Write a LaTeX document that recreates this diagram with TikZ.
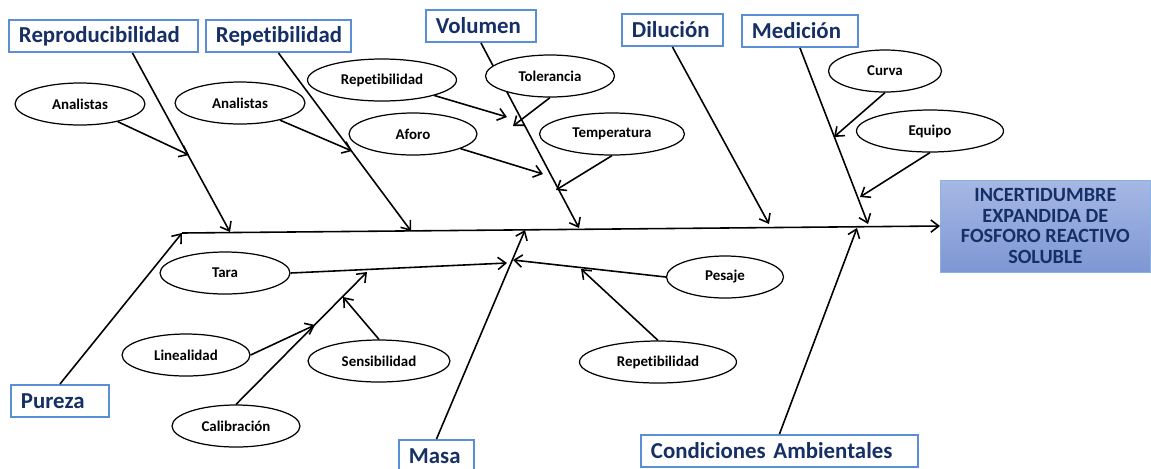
\documentclass[tikz,border=0pt]{standalone}
\usepackage{fontspec}
\setmainfont{Carlito}[Ligatures={NoCommon}]
\usetikzlibrary{arrows.meta, shapes.geometric}
\definecolor{catnavy}{RGB}{22,48,102}
\definecolor{catblue}{RGB}{90,142,214}
\definecolor{efftop}{RGB}{166,184,228}
\definecolor{effbot}{RGB}{126,150,212}

\begin{document}
\begin{tikzpicture}[
  x=0.02cm, y=-0.02cm,
  catbox/.style={rectangle, draw=catblue, line width=1.1pt, fill=white, text=catnavy,
                 font=\fontsize{13}{15}\selectfont\bfseries, text width=#1, align=left,
                 minimum height=0.64cm, inner xsep=0.2cm, anchor=west},
  sub/.style={ellipse, draw, line width=0.7pt, fill=white, minimum width=#1,
              minimum height=0.84cm, inner sep=0pt, font=\fontsize{8.5}{10}\selectfont\bfseries},
  arr/.style={-{Straight Barb[length=4.5pt, width=7pt]}, line width=0.9pt}
]
\useasboundingbox (0,0) rectangle (1151,468);

% effect box
\node[rectangle, draw=catblue!70, top color=efftop, bottom color=effbot, text=catnavy,
      minimum width=4.2cm, minimum height=1.84cm, align=center, anchor=west,
      font=\fontsize{11.5}{11.6}\selectfont\bfseries] (effect) at (940,226)
      {INCERTIDUMBRE\\EXPANDIDA DE\\FOSFORO REACTIVO\\SOLUBLE};

% spine
\coordinate (sp0) at (182,233);
\draw[arr] (sp0) -- (effect.west);

% categories
\node[catbox=3.38cm] (repro)  at (8,36)    {Reproducibilidad};
\node[catbox=2.5cm]  (repet)  at (205,36)  {Repetibilidad};
\node[catbox=1.8cm]  (vol)    at (425,26)  {Volumen};
\node[catbox=1.62cm] (dil)    at (621,30)  {Dilución};
\node[catbox=1.92cm] (med)    at (741,31)  {Medición};
\node[catbox=1.56cm] (pur)    at (10,401)  {Pureza};
\node[catbox=1.1cm]  (masa)   at (398,456) {Masa};
\node[catbox=5.14cm] (amb)    at (640,451) {Condiciones Ambientales};

% spine end points
\coordinate (tRepro) at (230,232);
\coordinate (tRepet) at (411,231);
\coordinate (tVol)   at (579,228);
\coordinate (tDil)   at (769,224);
\coordinate (tMed)   at (868,224);
\coordinate (tMasa)  at (525,230);
\coordinate (tAmb)   at (857,228);

\draw[arr] ([xshift=0.58cm]repro.south) -- (tRepro);
\draw[arr] (repet.south) -- (tRepet);
\draw[arr] (vol.south) -- (tVol);
\draw[arr] (dil.south) -- (tDil);
\draw[arr] (med.south) -- (tMed);
\draw[arr] (pur.north) -- (sp0);
\draw[arr] (masa.north) -- (tMasa);
\draw[arr] (amb.north) -- (tAmb);

% sub causes
\node[sub=2.6cm]  (ana1)    at (80,104)  {Analistas};
\node[sub=2.6cm]  (ana2)    at (240,103) {Analistas};
\node[sub=2.98cm] (repvol)  at (382,80)  {Repetibilidad};
\node[sub=2.58cm] (toler)   at (550,76)  {Tolerancia};
\node[sub=2.56cm] (aforo)   at (413,134) {Aforo};
\node[sub=2.9cm]  (temp)    at (612,134) {Temperatura};
\node[sub=2.26cm] (curva)   at (885,71)  {Curva};
\node[sub=2.94cm] (equipo)  at (930,131) {Equipo};
\node[sub=2.6cm]  (tara)    at (225,273) {Tara};
\node[sub=2.56cm] (lineal)  at (186,355) {Linealidad};
\node[sub=2.84cm] (sensib)  at (379,361) {Sensibilidad};
\node[sub=2.56cm] (calib)   at (236,426) {Calibración};
\node[sub=2.34cm] (pesaje)  at (725,277) {Pesaje};
\node[sub=3.14cm] (repmasa) at (658,362) {Repetibilidad};

% sub cause end points
\coordinate (eAna1)   at (189,155);
\coordinate (eAna2)   at (352,151);
\coordinate (eRepvol) at (507,117);
\coordinate (eToler)  at (513,126);
\coordinate (eAforo)  at (543,174);
\coordinate (eTemp)   at (556,190);
\coordinate (eCurva)  at (834,137);
\coordinate (eEquipo) at (860,197);
\coordinate (eTara)   at (507,263);
\coordinate (ePesaje) at (513,260);
\coordinate (eRepm)   at (581,269);
\coordinate (eCalib)  at (367,272);
\coordinate (eLineal) at (315,325);
\coordinate (eSensib) at (343,297);

\draw[arr] (ana1) -- (eAna1);
\draw[arr] (ana2) -- (eAna2);
\draw[arr] (repvol) -- (eRepvol);
\draw[arr] (toler.south) -- (eToler);
\draw[arr] (aforo) -- (eAforo);
\draw[arr] (temp.south) -- (eTemp);
\draw[arr] (curva.south) -- (eCurva);
\draw[arr] (equipo.south) -- (eEquipo);
\draw[arr] (tara.east) -- (eTara);
\draw[arr] (pesaje.west) -- (ePesaje);
\draw[arr] (repmasa.north) -- (eRepm);
\draw[arr] (calib.north) -- (eCalib);
\draw[arr] (lineal.east) -- (eLineal);
\draw[arr] (sensib.north) -- (eSensib);

\end{tikzpicture}
\end{document}
